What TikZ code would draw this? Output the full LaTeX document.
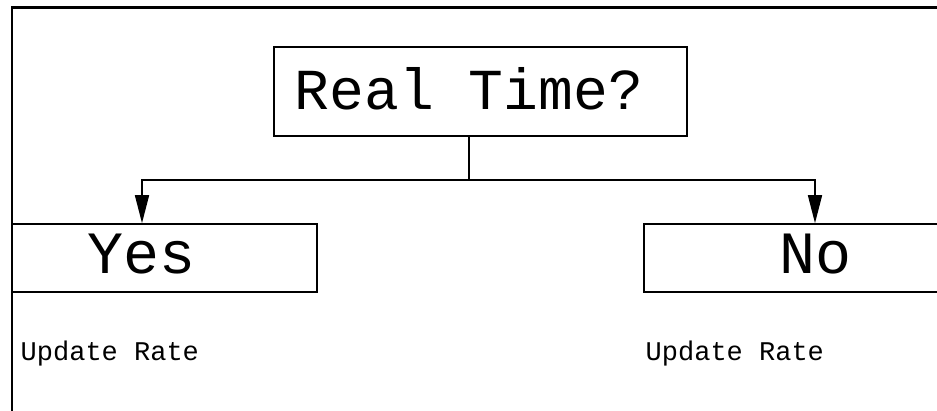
\documentclass[tikz,border=0pt]{standalone}
\usepackage{fontspec}
\setmonofont{Liberation Mono}
\usetikzlibrary{arrows.meta,positioning,calc}
\tikzset{
  choice/.style={draw,line width=1.6pt,inner sep=0pt},
  question/.style={font=\ttfamily\fontsize{58}{58}\selectfont,inner sep=0pt,anchor=base},
  answer/.style={font=\ttfamily\fontsize{60}{60}\selectfont,inner sep=0pt,anchor=base},
  note/.style={font=\ttfamily\fontsize{27}{27}\selectfont,inner sep=0pt,anchor=base west},
  link/.style={line width=1.6pt},
  arrow/.style={-{Triangle[length=28pt,width=14pt]},line width=1.6pt}
}

\begin{document}
\begin{tikzpicture}[x=1pt,y=1pt]
  \useasboundingbox (0,0) rectangle (937,411);
  \clip (0,0) rectangle (937,411);
  % frame
  \draw[line width=2.2pt] (12,-5) -- (12,403.5) -- (945,403.5);
  \node[choice,minimum width=413pt,minimum height=89pt] (rt) at (480.5,319.5) {};
  \node[question] (rtq) at (469,301) {Real Time?};
  \node[choice,minimum width=305pt,minimum height=68pt] (yes) at (164.5,153) {};
  \node[answer] (yesq) at (142,137) {Yes};
  \node[choice,minimum width=338pt,minimum height=68pt] (no) at (813,153) {};
  \node[answer] (noq) at (815,137) {No};
  \node[note] (yesrate) at (20.5,50) {Update Rate};
  \node[note] (norate) at (645.5,50) {Update Rate};
  \coordinate (split) at (469,231);
  \draw[link] (rtq |- rt.south) -- (split);
  \draw[arrow] (split) -| (yesq |- yes.north);
  \draw[arrow] (split) -| (noq |- no.north);
\end{tikzpicture}
\end{document}
